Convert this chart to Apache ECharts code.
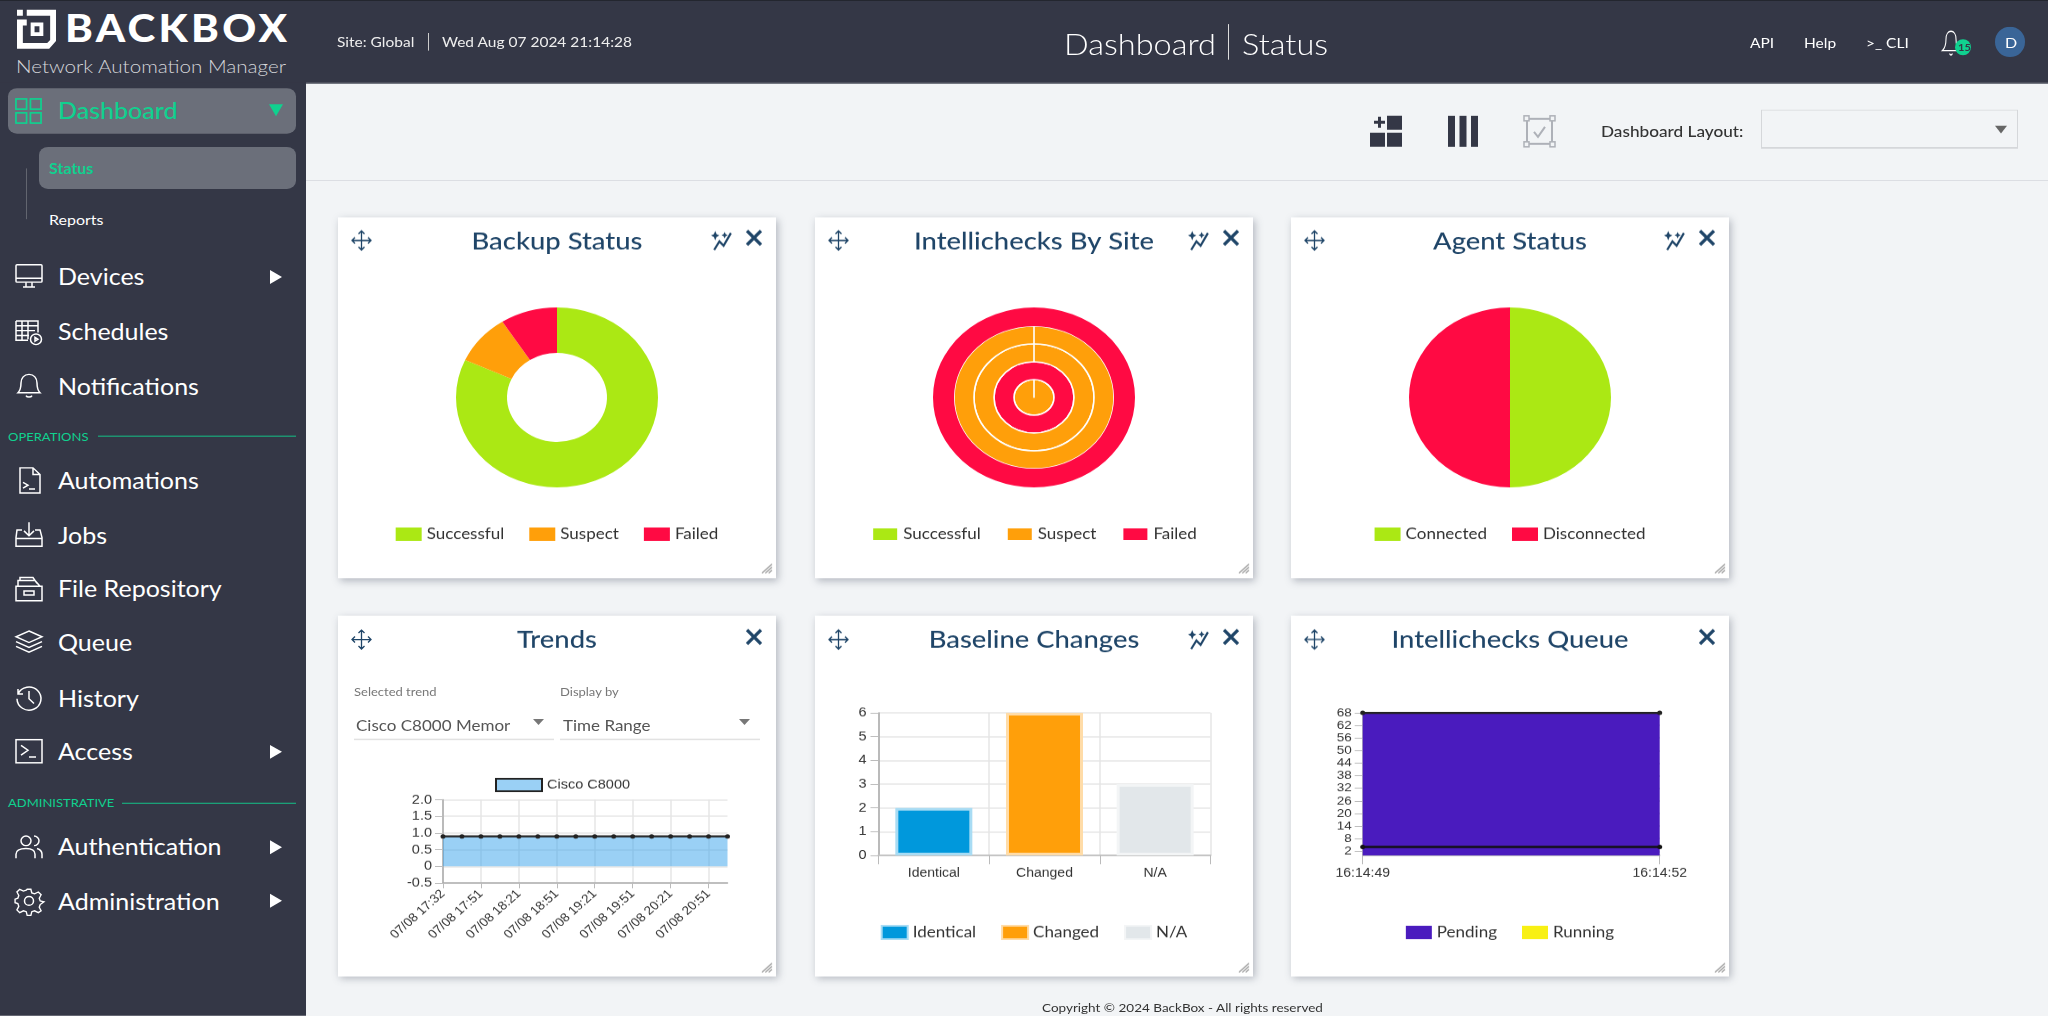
<!DOCTYPE html>
<html>
<head>
<meta charset="utf-8">
<title>BackBox Dashboard</title>
<script src="https://cdn.jsdelivr.net/npm/echarts@6/dist/echarts.min.js"></script>
<style>
html, body { margin: 0; padding: 0; width: 2048px; height: 1016px; overflow: hidden; background: #f2f4f6; }
#page { position: absolute; left: 0; top: 0; width: 2048px; height: 1141px; transform: scale(1, 0.891); transform-origin: 0 0; font-family: Lato, "Noto Sans", sans-serif; color: #fff; }
.abs { position: absolute; white-space: nowrap; }
.card { position: absolute; width: 438px; height: 405px; background: #fff; box-shadow: 2px 3px 8px rgba(60, 70, 90, .35); }
svg { position: absolute; overflow: visible; }
</style>
</head>
<body>
<div id="page"></div>
<script>
"use strict"

// the original screenshot is squashed vertically, so everything is laid out taller and scaled back
const K = 0.891;
const page = document.getElementById("page");

const GREEN = "#abe814", ORANGE = "#ff9f0a", RED = "#ff0a43", BLUE = "#0098dc", GREY = "#e2e7ea", PURPLE = "#4a1bbe", YELLOW = "#f8f013";
const MINT = "#10d18f", DARK = "#343746", TITLE = "#1f4568";
const FONT = "Lato, 'Noto Sans', sans-serif", ARIAL = "'Liberation Sans', Arial, sans-serif";

function box(x, y, w, h, css)
{
    const el = document.createElement("div");
    el.className = "abs";
    el.style.cssText = `left:${x}px;top:${y / K}px;width:${w}px;height:${h / K}px;${css || ""}`;
    page.appendChild(el);
    return el;
}

function text(str, x, y, css)
{
    const el = document.createElement("div");
    el.className = "abs";
    el.textContent = str;
    el.style.cssText = `left:${x}px;top:${y / K}px;transform:translateY(-50%);${css || ""}`;
    page.appendChild(el);
    return el;
}

function icon(x, y, w, h, body, vw, vh)
{
    const holder = document.createElement("div");
    holder.innerHTML = `<svg style="left:${x}px;top:${y / K}px" width="${w}" height="${h / K}" viewBox="0 0 ${vw || 28} ${vh || 28}" preserveAspectRatio="none" fill="none" stroke="#fff" stroke-width="1.5">${body}</svg>`;
    page.appendChild(holder.firstChild);
}

/********** header and side bar **********/
box(0, 0, 306, 1016, `background:${DARK}`);
box(0, 0, 2048, 83, `background:${DARK};border-top:1px solid #22242e;box-sizing:border-box`);
box(306, 83, 1742, 1, "background:#4b4e5c");
box(306, 180, 1742, 1, "background:#d8dbe0");

icon(17, 10, 39, 39, `<path fill="#fff" stroke="none" fill-rule="evenodd" d="M0 0h6v6H0zM10 0h30v32l-7 8H0V10h10v6H6v18h25l3-3V6H10zM14 13h13v14H14zM18 17v6h5v-6z"/>`, 40, 40);
text("BACKBOX", 65, 28, "font-size:42px;font-weight:900;letter-spacing:3.3px;color:#fff");
text("Network Automation Manager", 16, 66, "font-size:20.6px;font-weight:300;color:#d5d6da");

box(8, 88, 288, 46, "background:#6b6f7a;border-radius:9px");
box(39, 147, 257, 42, "background:#6b6f7a;border-radius:9px");
box(26, 168, 1, 51, "background:#62656f");
icon(15, 98, 27, 26, `<g stroke="${MINT}" stroke-width="1.8"><rect x="1" y="1" width="11" height="11"/><rect x="16" y="1" width="11" height="11"/><rect x="1" y="16" width="11" height="11"/><rect x="16" y="16" width="11" height="11"/></g>`);
text("Dashboard", 58, 110, `font-size:25px;color:${MINT};font-weight:500`);
icon(269, 104, 14, 12, `<path d="M0 0H14L7 12Z" fill="${MINT}" stroke="none"/>`, 14, 12);
text("Status", 49, 168, `font-size:16px;color:${MINT};font-weight:700`);
text("Reports", 49, 219, "font-size:16px;color:#fff");

const navIcons = {
    Devices: `<rect x="1" y="2" width="26" height="18" rx="1"/><path d="M1 16H27M11 20v5M17 20v5M8 25H20"/>`,
    Schedules: `<path d="M1 3H23V15M1 3V23H13M1 8H23M1 13H20M1 18H14M7 3V23M13 3V22"/><circle cx="21" cy="22" r="5.5"/><path d="M20 20l3 2-3 2z"/>`,
    Notifications: `<path d="M3 21C6 18 6 15 6 11 6 6 9 2 14 2s8 4 8 9c0 4 0 7 3 10zM11 24c1 2 5 2 6 0"/>`,
    Automations: `<path d="M5 1H18L25 8V27H5zM18 1V8H25M8 16l5 3-5 3M14 23H20"/>`,
    Jobs: `<path d="M7 9H2L1 17V26H27V17L25 9H20M1 18H27M14 1V14M9 10l5 5 5-5"/>`,
    "File Repository": `<path d="M1 12H27V27H1zM3 12V6H20L25 12M5 6V3H18L22 9M9 17H19V21H9z"/>`,
    Queue: `<path d="M14 2L27 8 14 14 1 8zM1 13L14 19 27 13M1 18L14 24 27 18"/>`,
    History: `<path d="M3 5V10H8M3 10A12 12 0 1 1 2 15M14 7V15L19 20"/>`,
    Access: `<rect x="1" y="2" width="26" height="24"/><path d="M6 8l7 5-7 5M14 20H21"/>`,
    Authentication: `<circle cx="11" cy="8" r="5"/><path d="M1 26V22C1 17 5 16 11 16s9 2 9 6v4M19 3a5 5 0 0 1 0 10M22 16c3 1 5 3 5 6v4"/>`,
    Administration: `<circle cx="14" cy="14" r="4.5"/><path d="M12 1h4l1 4 3 1 4-2 3 3-2 4 1 3 4 1v0l-4 3-1 3 2 4-3 2-4-2-3 1-1 4h-4l-1-4-3-1-4 2-3-3 2-4-1-3-3-1v-4l3-1 1-3-2-4 3-3 4 2 3-1z" transform="translate(1 1) scale(.93)"/>`
};
const navItems = [
    ["Devices", 277, true], ["Schedules", 332, false], ["Notifications", 386, false],
    ["Automations", 481, false], ["Jobs", 535, false], ["File Repository", 589, false],
    ["Queue", 643, false], ["History", 698, false], ["Access", 752, true],
    ["Authentication", 847, true], ["Administration", 901, true]
];
navItems.forEach(([name, y, arrow]) =>
{
    icon(15, y - 14, 28, 27, navIcons[name]);
    text(name, 58, y - 0.5, "font-size:25px;color:#fff");
    if (arrow)
        icon(270, y - 7, 12, 14, `<path d="M0 0L12 7 0 14Z" fill="#fff" stroke="none"/>`, 12, 14);
});
text("OPERATIONS", 8, 437, `font-size:13px;color:${MINT}`);
box(98, 436, 198, 1, `background:${MINT}`);
text("ADMINISTRATIVE", 8, 803, `font-size:13px;color:${MINT}`);
box(122, 803, 174, 1, `background:${MINT}`);

text("Site: Global", 337, 42, "font-size:15.5px;color:#eee");
box(428, 33, 1, 18, "background:#ccc");
text("Wed Aug 07 2024 21:14:28", 442, 42, "font-size:15.5px;color:#eee");
text("Dashboard", 1064, 44, "font-size:32.5px;font-weight:300;color:#fff");
box(1228, 24, 1, 36, "background:#ddd");
text("Status", 1242, 44, "font-size:32.5px;font-weight:300;color:#fff");
text("API", 1750, 43, "font-size:15.5px;color:#fff");
text("Help", 1804, 43, "font-size:15.5px;color:#fff");
text(">_  CLI", 1866, 43, "font-size:15.5px;color:#fff");
icon(1941, 29, 20, 27, `<path d="M2 22C6 19 7 15 7 10 7 5 10 2 14 2s7 3 7 8c0 5 1 9 5 12zM12 25c1 2 3 2 4 0"/>`);
box(1955, 39, 16, 16, `background:${MINT};border-radius:50%`);
text("15", 1958, 47, `font-size:11px;font-weight:700;color:${DARK}`);
box(1995, 27, 30, 30, "background:#3a6597;border-radius:50%");
text("D", 2005, 42, "font-size:16px;color:#fff");

// toolbar
icon(1370, 116, 32, 31, `<g stroke="none" fill="${DARK}"><path d="M4 5H8V1H11V5H15V8H11V12H8V8H4zM17 0H32V14H17zM0 17H15V31H0zM17 17H32V31H17z"/></g>`, 32, 31);
icon(1448, 116, 30, 31, `<g stroke="none" fill="${DARK}"><rect x="0" y="0" width="7" height="31"/><rect x="11.5" y="0" width="7" height="31"/><rect x="23" y="0" width="7" height="31"/></g>`, 30, 31);
icon(1524, 116, 31, 31, `<g stroke="#aeb1b8" stroke-width="2"><rect x="3" y="3" width="25" height="25"/><path d="M10 16l4 5 7-10"/></g><g fill="#f2f4f6" stroke="#aeb1b8" stroke-width="1.5"><rect x="0" y="0" width="5" height="5"/><rect x="26" y="0" width="5" height="5"/><rect x="0" y="26" width="5" height="5"/><rect x="26" y="26" width="5" height="5"/></g>`, 31, 31);
text("Dashboard Layout:", 1601, 131, "font-size:17.2px;color:#333;font-weight:500");
box(1761, 110, 257, 39, "background:#f2f4f6;border:1px solid #d5d7da;border-bottom:2px solid #d5d7da;box-sizing:border-box");
icon(1995, 126, 12, 8, `<path d="M0 0H12L6 8Z" fill="#666" stroke="none"/>`, 12, 8);

text("Copyright © 2024 BackBox - All rights reserved", 1042, 1008, "font-size:13.5px;color:#333");

/********** cards **********/
const CARDX = [338, 815, 1291], CARDY = [217, 616];

function makeCard(col, row, hasSpark)
{
    const x = CARDX[col], y = CARDY[row];
    const el = document.createElement("div");
    el.className = "card";
    el.style.left = x + "px";
    el.style.top = y / K + "px";
    page.appendChild(el);

    const chartEl = document.createElement("div");
    chartEl.style.cssText = "position:absolute;left:0;top:0;width:438px;height:405px";
    el.appendChild(chartEl);

    const strk = `stroke="${TITLE}"`;
    icon(x + 13, y + 13, 21, 21, `<path ${strk} stroke-width="1.3" d="M10.5 1V20M1 10.5H20M7.5 4l3-3 3 3M7.5 17l3 3 3-3M4 7.5l-3 3 3 3M17 7.5l3 3-3 3"/>`, 21, 21);
    if (hasSpark)
        icon(x + 372, y + 13, 23, 21, `<path ${strk} stroke-width="2" d="M4 19l5-8 4 4 7-12"/><path fill="${TITLE}" stroke="none" d="M5 1l1.3 3 2.7 1.3-2.7 1.3L5 10 3.7 6.6 1 5.3l2.7-1.3zM14 2l1 2 2 1-2 1-1 2-1-2-2-1 2-1z"/>`, 22, 20);
    icon(x + 408, y + 13, 16, 16, `<path ${strk} stroke-width="3.2" d="M1 1L15 15M15 1L1 15"/>`, 16, 16);
    icon(x + 424, y + 347, 10, 9, `<path stroke="#999" stroke-width="1.2" d="M0 9L9 0M3 9L9 3M6 9L9 6"/>`, 9, 9);

    return echarts.init(chartEl, null, { renderer: "canvas" });
}

const titleOpt = str => ({
    text: str, left: "center", top: 9,
    textStyle: { color: TITLE, fontFamily: FONT, fontSize: 27.4, fontWeight: 500 }
});
const legendOpt = (data, top, extra) => Object.assign({
    data: data, top: top, left: "center", icon: "rect",
    itemWidth: 26, itemHeight: 15, itemGap: 25,
    textStyle: { color: "#333", fontFamily: FONT, fontSize: 17, padding: [0, 0, 0, 0] },
    selectedMode: false
}, extra || {});

const AXISLABEL = { color: "#333", fontFamily: ARIAL, fontSize: 14.5 };
const SPLIT = { show: true, lineStyle: { color: "#e6e6e6", width: 1.5 } };
const AXLINE = { show: true, onZero: false, lineStyle: { color: "#aaa", width: 1.5 } };
const TICK = { show: true, length: 8, lineStyle: { color: "#bbb" } };

/********** pies **********/
const backupStatus = [
    { name: "Successful", value: 9 },
    { name: "Suspect", value: 1 },
    { name: "Failed", value: 1 }
];
// one ring per site, inside to outside: [successful, suspect, failed]
const siteRings = [
    { radius: [0, 20], values: [0, 1, 0] },
    { radius: [20, 40], values: [0, 0, 1] },
    { radius: [40, 60], values: [0, 1, 0] },
    { radius: [60, 80], values: [0, 1, 0] },
    { radius: [80, 101], values: [0, 0, 1], noBorder: true }
];
const agentStatus = [
    { name: "Connected", value: 1 },
    { name: "Disconnected", value: 1 }
];
const basePie = {
    type: "pie", center: [219, 202], startAngle: 90, clockwise: true,
    label: { show: false }, labelLine: { show: false }, silent: true, animation: false
};

makeCard(0, 0, true).setOption({
    animation: false,
    color: [GREEN, ORANGE, RED],
    title: titleOpt("Backup Status"),
    legend: legendOpt(backupStatus.map(x => x.name), 342),
    series: [Object.assign({}, basePie, { radius: [50, 101], data: backupStatus })]
});

const statusNames = ["Successful", "Suspect", "Failed"];
makeCard(1, 0, true).setOption({
    animation: false,
    color: [GREEN, ORANGE, RED],
    title: titleOpt("Intellichecks By Site"),
    legend: legendOpt(statusNames, 342),
    series: siteRings.map(ring => Object.assign({}, basePie, {
        radius: ring.radius,
        itemStyle: { borderColor: "#fff", borderWidth: ring.noBorder ? 0 : 1.6 },
        data: ring.values.map((v, i) => ({ name: statusNames[i], value: v }))
    }))
});

makeCard(2, 0, true).setOption({
    animation: false,
    color: [GREEN, RED],
    title: titleOpt("Agent Status"),
    legend: legendOpt(agentStatus.map(x => x.name), 342),
    series: [Object.assign({}, basePie, { radius: [0, 101], data: agentStatus })]
});

/********** trends **********/
const trendTimes = ["07/08 17:32", "07/08 17:36", "07/08 17:51", "07/08 18:06", "07/08 18:21", "07/08 18:36", "07/08 18:51", "07/08 19:06",
    "07/08 19:21", "07/08 19:36", "07/08 19:51", "07/08 20:06", "07/08 20:21", "07/08 20:36", "07/08 20:51", "07/08 21:06"];
const trendVals = [0.9, 0.9, 0.9, 0.9, 0.9, 0.9, 0.9, 0.9, 0.9, 0.9, 0.9, 0.9, 0.9, 0.9, 0.9, 0.9];

makeCard(0, 1, false).setOption({
    animation: false,
    title: titleOpt("Trends"),
    legend: legendOpt([{ name: "Cisco C8000", itemStyle: { color: "#9ad0f5", borderColor: "#222", borderWidth: 2 } }], 177, {
        itemWidth: 46, itemHeight: 14, left: 152,
        textStyle: { color: "#333", fontFamily: ARIAL, fontSize: 14.5 }
    }),
    grid: { left: 105, top: 206.5, width: 284.5, height: 93.5, containLabel: false },
    xAxis: {
        type: "category", data: trendTimes, boundaryGap: false,
        axisLabel: Object.assign({}, AXISLABEL, { fontSize: 13.5, rotate: 45, interval: 1, margin: 10 }),
        axisTick: { show: true, length: 6, interval: 1, lineStyle: { color: "#bbb" } },
        axisLine: AXLINE,
        splitLine: { show: true, interval: 1, lineStyle: { color: "#e6e6e6", width: 1.5 } }
    },
    yAxis: {
        type: "value", min: -0.5, max: 2, interval: 0.5,
        axisLabel: Object.assign({}, AXISLABEL, { margin: 11, formatter: v => v === 0 ? "0" : v.toFixed(1) }),
        axisTick: TICK, axisLine: AXLINE, splitLine: SPLIT
    },
    series: [{
        name: "Cisco C8000", type: "line", data: trendVals,
        symbol: "circle", symbolSize: 5, showAllSymbol: true,
        itemStyle: { color: "#222" }, lineStyle: { color: "#222", width: 2.4 },
        areaStyle: { color: "rgba(54, 162, 235, 0.5)", opacity: 1 }
    }]
});

text("Selected trend", 354, 691, "font-size:13px;color:#777");
text("Display by", 560, 691, "font-size:13px;color:#777");
text("Cisco C8000 Memor", 356, 725, "font-size:17px;color:#555");
text("Time Range", 563, 725, "font-size:17px;color:#555");
box(354, 739, 200, 1, "background:#e2e2e2");
box(560, 739, 200, 1, "background:#e2e2e2");
icon(533, 719, 11, 6, `<path d="M0 0H11L5.5 6Z" fill="#777" stroke="none"/>`, 11, 6);
icon(739, 719, 11, 6, `<path d="M0 0H11L5.5 6Z" fill="#777" stroke="none"/>`, 11, 6);

/********** baseline changes **********/
const baseline = [
    { name: "Identical", value: 2, color: BLUE, border: "#a8dcf4" },
    { name: "Changed", value: 6, color: ORANGE, border: "#ffdca8" },
    { name: "N/A", value: 3, color: GREY, border: "#f3f5f6" }
];

makeCard(1, 1, true).setOption({
    animation: false,
    color: baseline.map(x => x.color),
    title: titleOpt("Baseline Changes"),
    legend: legendOpt(baseline.map(x => x.name), 342),
    grid: { left: 63.5, top: 109, width: 332, height: 160 },
    xAxis: {
        type: "category", data: baseline.map(x => x.name),
        axisLabel: Object.assign({}, AXISLABEL, { fontSize: 14, margin: 13 }),
        axisTick: { show: true, length: 10, lineStyle: { color: "#bbb" } },
        axisLine: { show: true, onZero: false, lineStyle: { color: "#c4c4c4", width: 2 } },
        splitLine: SPLIT
    },
    yAxis: {
        type: "value", min: 0, max: 6, interval: 1,
        axisLabel: Object.assign({}, AXISLABEL, { margin: 12 }),
        axisTick: TICK, axisLine: AXLINE, splitLine: SPLIT
    },
    series: baseline.map((item, i) => ({
        name: item.name, type: "bar", barWidth: 77, barGap: "-100%",
        itemStyle: { color: item.color, borderColor: item.border, borderWidth: 3 },
        data: baseline.map((_, j) => i === j ? item.value : null)
    }))
});

/********** queue **********/
const queueTimes = ["16:14:49", "16:14:52"];
const queuePending = [68, 68], queueRunning = [4, 4];
const queueTicks = [2, 8, 14, 20, 26, 32, 38, 44, 50, 56, 62, 68];

makeCard(2, 1, false).setOption({
    animation: false,
    title: titleOpt("Intellichecks Queue"),
    legend: legendOpt([
        { name: "Pending", itemStyle: { color: PURPLE, borderWidth: 0 } },
        { name: "Running", itemStyle: { color: YELLOW, borderWidth: 0 } }
    ], 342),
    grid: { left: 71.7, top: 109, width: 297, height: 160 },
    xAxis: {
        type: "category", data: queueTimes, boundaryGap: false,
        axisLabel: Object.assign({}, AXISLABEL, { fontSize: 14, margin: 13, interval: 0 }),
        axisTick: { show: true, length: 10, interval: 0, lineStyle: { color: "#bbb" } },
        axisLine: AXLINE
    },
    yAxis: {
        type: "value", min: 0, max: 68,
        axisLabel: Object.assign({}, AXISLABEL, { fontSize: 13.5, margin: 11, customValues: queueTicks, hideOverlap: false, showMinLabel: true, showMaxLabel: true }),
        axisTick: Object.assign({}, TICK, { customValues: queueTicks }),
        axisLine: AXLINE,
        splitLine: { show: true, lineStyle: { color: "#bbb", width: 1.5 } }
    },
    series: [{
        name: "Pending", type: "line", data: queuePending, z: 2,
        symbol: "circle", symbolSize: 5, showSymbol: true,
        itemStyle: { color: "#222" }, lineStyle: { color: "#222", width: 2.5 },
        areaStyle: { color: PURPLE, opacity: 1 }
    }, {
        name: "Running", type: "line", data: queueRunning, z: 3,
        symbol: "circle", symbolSize: 5, showSymbol: true,
        itemStyle: { color: "#111" }, lineStyle: { color: "#111", width: 2.5 }
    }]
});
</script>
</body>
</html>
